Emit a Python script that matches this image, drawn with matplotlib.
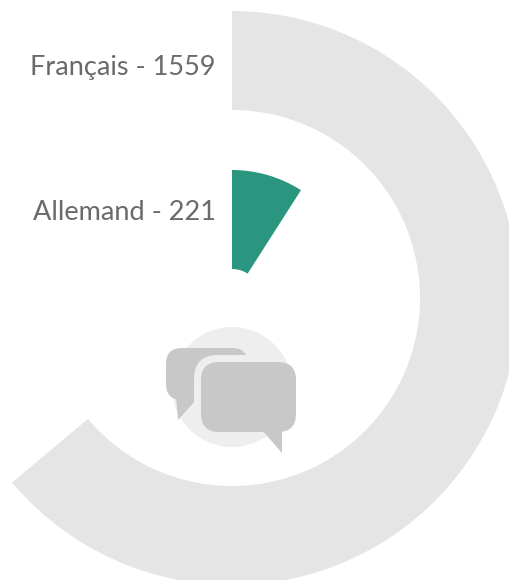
import numpy as np
import matplotlib
matplotlib.use("Agg")
import matplotlib.pyplot as plt
from matplotlib.patches import Circle, FancyBboxPatch, Polygon

# Data
languages = ["Français", "Allemand"]
counts = [1559, 221]
max_count = 1559
max_sweep_deg = 230.0

# Layout (pixels)
W, H = 510, 580
CX, CY, R_MAX = 232, 298, 287
bands = [(188, 287), (29, 128)]
colors = ["#e5e5e5", "#2a9680"]
label_x = 216
label_y = [75, 220]

fig = plt.figure(figsize=(W / 100, H / 100), dpi=100, facecolor="white")

ax = fig.add_axes([(CX - R_MAX) / W, 1 - (CY + R_MAX) / H, 2 * R_MAX / W, 2 * R_MAX / H],
                  projection="polar")
ax.set_theta_zero_location("N")
ax.set_theta_direction(-1)
ax.set_ylim(0, R_MAX)
ax.axis("off")
for count, (r0, r1), color in zip(counts, bands, colors):
    sweep = np.deg2rad(count / max_count * max_sweep_deg)
    ax.bar(sweep / 2, r1 - r0, width=sweep, bottom=r0, color=color, linewidth=0, clip_on=False)

# Pixel overlay for the icon and labels
ov = fig.add_axes([0, 0, 1, 1], facecolor="none")
ov.set_xlim(0, W)
ov.set_ylim(H, 0)
ov.axis("off")

icon = "#c8c8c8"
halo = "#eeeeee"
disc = Circle((232, 387), 60, fc=halo, ec="none")
ov.add_patch(disc)
ov.add_patch(FancyBboxPatch((166, 348), 82, 52, boxstyle="round,pad=0,rounding_size=16", fc=icon, ec="none"))
ov.add_patch(Polygon([(176, 396), (178, 420), (196, 400)], closed=True, fc=icon, ec="none"))
gap = FancyBboxPatch((194, 355), 109, 84, boxstyle="round,pad=0,rounding_size=24", fc=halo, ec="none")
ov.add_patch(gap)
gap.set_clip_path(disc)
ov.add_patch(FancyBboxPatch((201, 362), 95, 70, boxstyle="round,pad=0,rounding_size=18", fc=icon, ec="none"))
ov.add_patch(Polygon([(262, 430), (282, 453), (282, 428)], closed=True, fc=icon, ec="none"))

for name, count, y in zip(languages, counts, label_y):
    ov.text(label_x, y, f"{name} - {count}", ha="right", va="baseline",
            fontsize=19.5, family="Lato", weight="normal", color="#6a6a6a")

fig.savefig("out.png", dpi=100, facecolor="white")
